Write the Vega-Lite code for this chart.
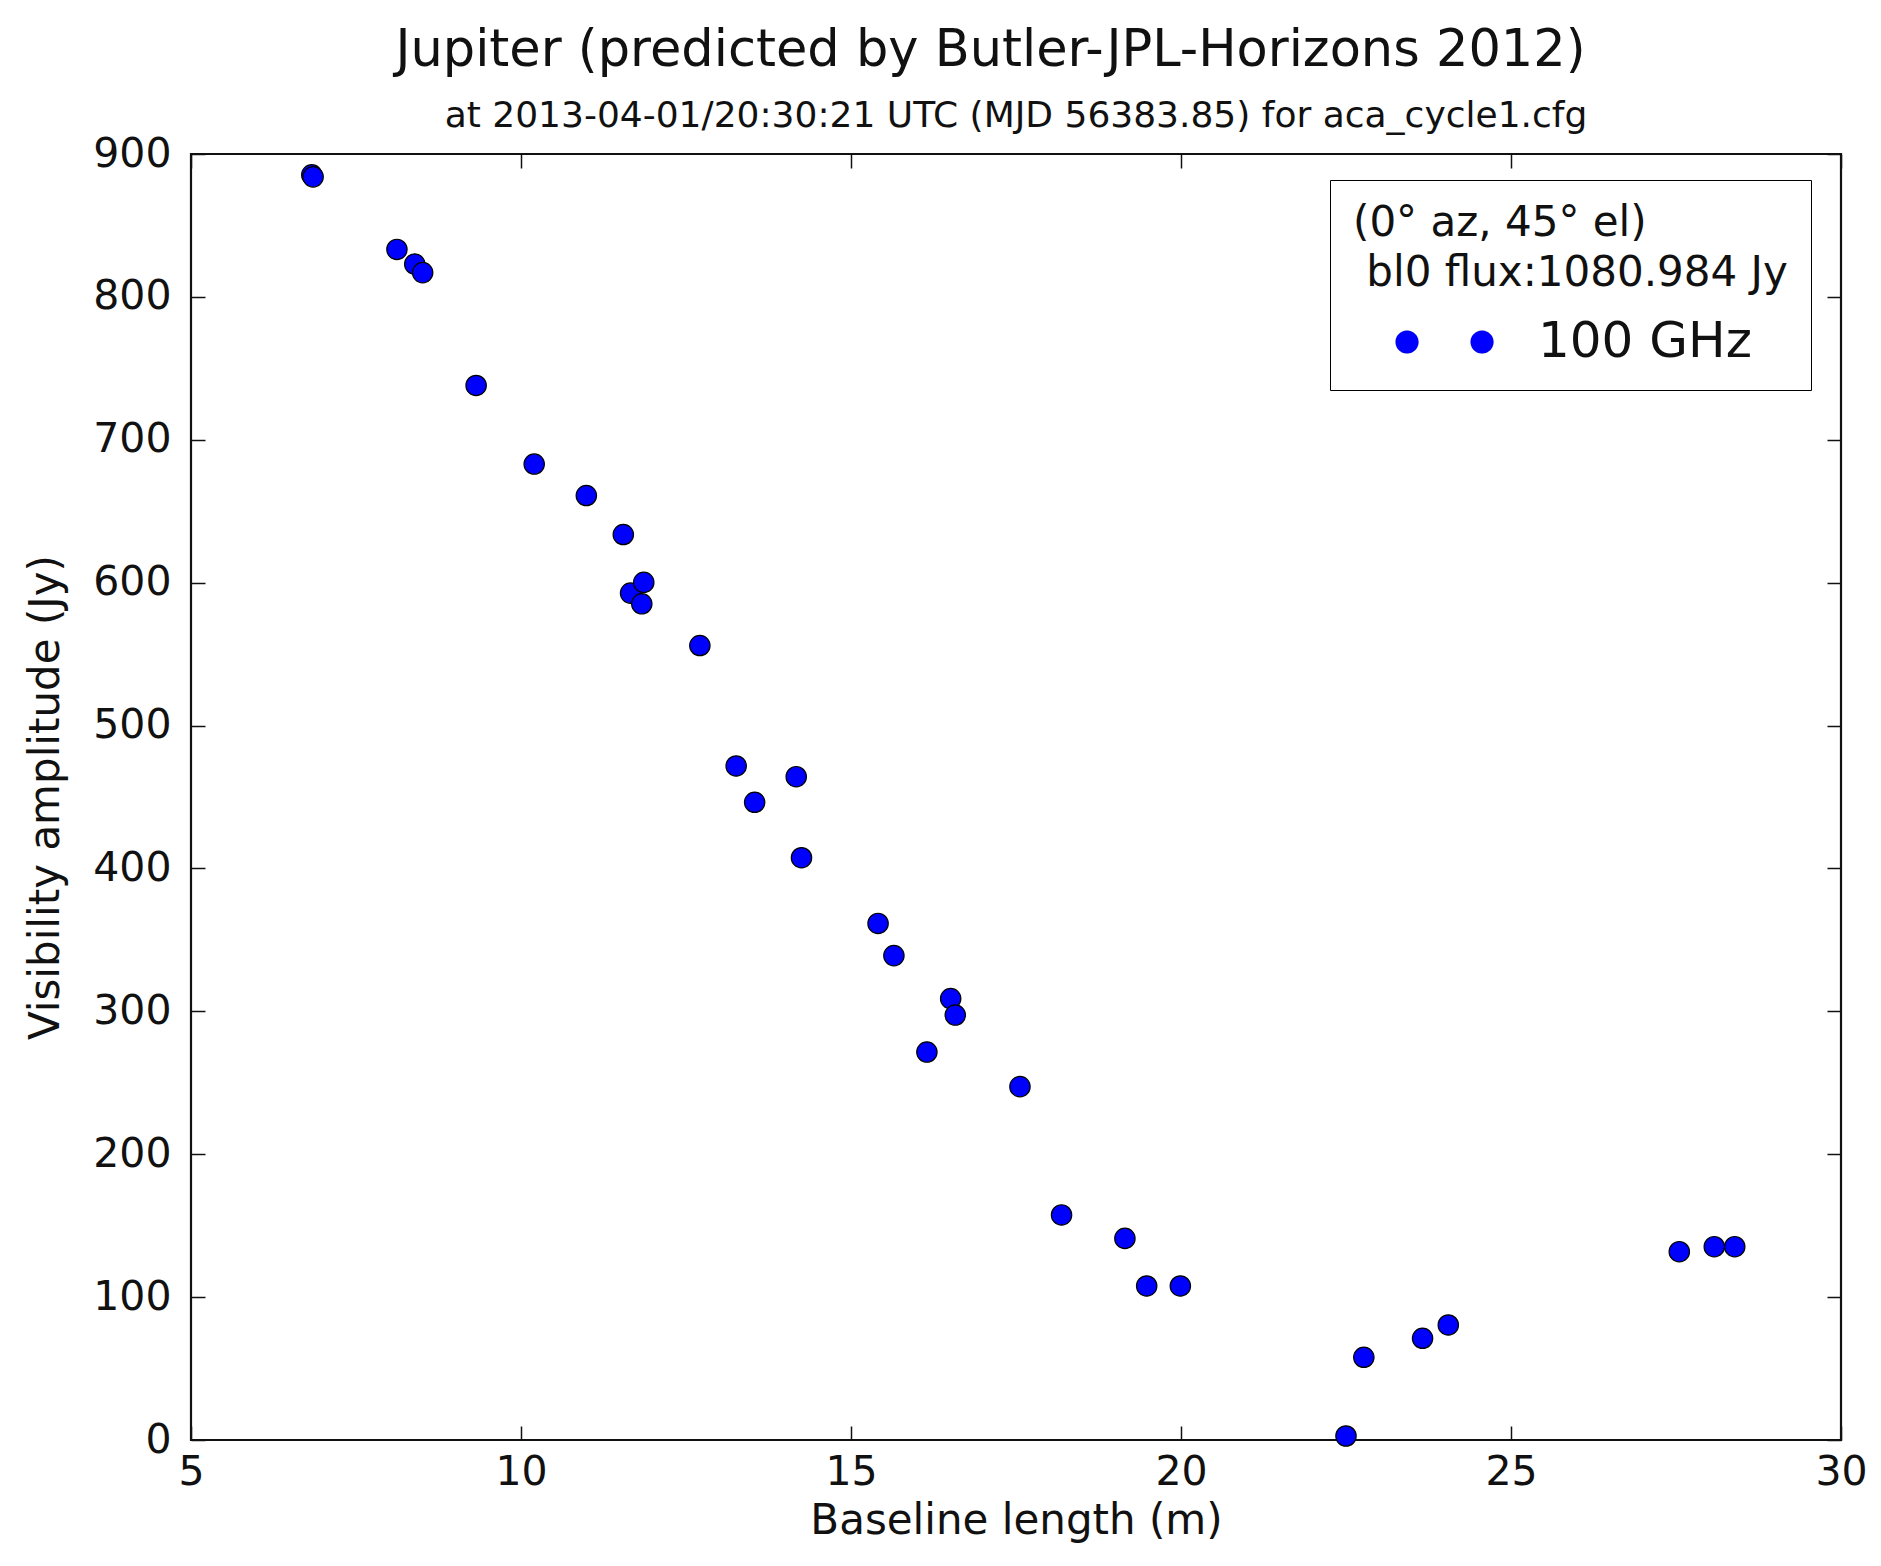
{
  "$schema": "https://vega.github.io/schema/vega-lite/v6.json",
  "width": 1650,
  "height": 1286,
  "autosize": {"type": "none"},
  "padding": {"left": 191, "top": 154, "right": 40, "bottom": 126},
  "background": "white",
  "title": {
    "text": "Jupiter (predicted by Butler-JPL-Horizons 2012)\u2002\u2002\u200b",
    "subtitle": "at 2013-04-01/20:30:21 UTC (MJD 56383.85) for aca_cycle1.cfg",
    "anchor": "middle",
    "font": "DejaVu Sans",
    "fontSize": 51,
    "fontWeight": "normal",
    "color": "#111",
    "subtitleFont": "DejaVu Sans",
    "subtitleFontSize": 36,
    "subtitleColor": "#111",
    "subtitlePadding": 22,
    "offset": -2
  },
  "data": {
    "values": [
      {"baseline": 6.83, "amp": 885.4, "band": "100 GHz"},
      {"baseline": 6.85, "amp": 884.0, "band": "100 GHz"},
      {"baseline": 8.12, "amp": 833.2, "band": "100 GHz"},
      {"baseline": 8.39, "amp": 823.0, "band": "100 GHz"},
      {"baseline": 8.51, "amp": 817.0, "band": "100 GHz"},
      {"baseline": 9.32, "amp": 738.0, "band": "100 GHz"},
      {"baseline": 10.20, "amp": 683.0, "band": "100 GHz"},
      {"baseline": 10.99, "amp": 661.0, "band": "100 GHz"},
      {"baseline": 11.55, "amp": 633.7, "band": "100 GHz"},
      {"baseline": 11.66, "amp": 592.7, "band": "100 GHz"},
      {"baseline": 11.86, "amp": 600.2, "band": "100 GHz"},
      {"baseline": 11.83, "amp": 585.2, "band": "100 GHz"},
      {"baseline": 12.71, "amp": 556.0, "band": "100 GHz"},
      {"baseline": 13.26, "amp": 471.7, "band": "100 GHz"},
      {"baseline": 13.54, "amp": 446.3, "band": "100 GHz"},
      {"baseline": 14.17, "amp": 464.2, "band": "100 GHz"},
      {"baseline": 14.25, "amp": 407.5, "band": "100 GHz"},
      {"baseline": 15.41, "amp": 361.5, "band": "100 GHz"},
      {"baseline": 15.65, "amp": 339.0, "band": "100 GHz"},
      {"baseline": 16.51, "amp": 308.9, "band": "100 GHz"},
      {"baseline": 16.58, "amp": 297.4, "band": "100 GHz"},
      {"baseline": 16.15, "amp": 271.5, "band": "100 GHz"},
      {"baseline": 17.56, "amp": 247.3, "band": "100 GHz"},
      {"baseline": 18.19, "amp": 157.5, "band": "100 GHz"},
      {"baseline": 19.15, "amp": 141.1, "band": "100 GHz"},
      {"baseline": 19.48, "amp": 107.8, "band": "100 GHz"},
      {"baseline": 19.99, "amp": 107.8, "band": "100 GHz"},
      {"baseline": 22.50, "amp": 2.8, "band": "100 GHz"},
      {"baseline": 22.77, "amp": 57.9, "band": "100 GHz"},
      {"baseline": 23.66, "amp": 71.2, "band": "100 GHz"},
      {"baseline": 24.05, "amp": 80.5, "band": "100 GHz"},
      {"baseline": 27.55, "amp": 131.8, "band": "100 GHz"},
      {"baseline": 28.08, "amp": 135.3, "band": "100 GHz"},
      {"baseline": 28.39, "amp": 135.3, "band": "100 GHz"}
    ]
  },
  "layer": [
    {
      "mark": {"type": "point", "shape": "circle", "filled": true, "size": 415, "opacity": 1, "stroke": "black", "strokeWidth": 1.2},
      "encoding": {
        "x": {
          "field": "baseline", "type": "quantitative",
          "scale": {"domain": [5, 30], "nice": false, "zero": false},
          "axis": {"orient": "bottom", "title": "Baseline length (m)", "values": [5, 10, 15, 20, 25, 30], "labelPadding": 26, "titlePadding": 8}
        },
        "y": {
          "field": "amp", "type": "quantitative",
          "scale": {"domain": [0, 900], "nice": false, "zero": false},
          "axis": {"orient": "left", "title": "Visibility amplitude (Jy)", "values": [0, 100, 200, 300, 400, 500, 600, 700, 800, 900], "labelPadding": 34, "titlePadding": 25}
        },
        "color": {
          "field": "band", "type": "nominal",
          "scale": {"range": ["#0000ff"]},
          "legend": {
            "orient": "none",
            "legendX": 1139,
            "legendY": 26,
            "title": ["(0°  az, 45°  el)", "\u200b\u00a0bl0 flux:1080.984 Jy"],
            "titleFont": "DejaVu Sans",
            "titleFontSize": 42,
            "titleFontWeight": "normal",
            "titleLineHeight": 50,
            "titleColor": "#111",
            "titleLimit": 2000,
            "titlePadding": 22,
            "padding": 23,
            "strokeColor": "black",
            "fillColor": "white",
            "labelFont": "DejaVu Sans",
            "labelFontSize": 50,
            "labelColor": "#111",
            "labelLimit": 2000,
            "labelOffset": 135,
            "symbolSize": 484,
            "symbolType": "M1.59,0 A1.05,1.05 0 1,1 3.69,0 A1.05,1.05 0 1,1 1.59,0 Z M8.41,0 A1.05,1.05 0 1,1 10.51,0 A1.05,1.05 0 1,1 8.41,0 Z",
            "symbolFillColor": "#0000ff",
            "symbolStrokeColor": "black",
            "symbolStrokeWidth": 0.1,
            "symbolOpacity": 1
          }
        }
      }
    },
    {
      "mark": {"type": "point", "opacity": 0},
      "encoding": {
        "x": {
          "field": "baseline", "type": "quantitative",
          "axis": {"orient": "top", "title": null, "labels": false, "values": [5, 10, 15, 20, 25, 30]}
        },
        "y": {
          "field": "amp", "type": "quantitative",
          "axis": {"orient": "right", "title": null, "labels": false, "values": [0, 100, 200, 300, 400, 500, 600, 700, 800, 900]}
        }
      }
    }
  ],
  "resolve": {"axis": {"x": "independent", "y": "independent"}},
  "config": {
    "font": "DejaVu Sans",
    "view": {"stroke": "#111", "strokeWidth": 2.2},
    "axis": {
      "domain": false,
      "grid": false,
      "ticks": true,
      "tickSize": -14,
      "tickColor": "#111",
      "tickWidth": 1.5,
      "labelFont": "DejaVu Sans",
      "labelFontSize": 41,
      "labelColor": "#111",
      "labelFlush": false,
      "labelOverlap": false,
      "labelBound": false,
      "titleFont": "DejaVu Sans",
      "titleFontSize": 42,
      "titleFontWeight": "normal",
      "titleColor": "#111"
    }
  }
}
